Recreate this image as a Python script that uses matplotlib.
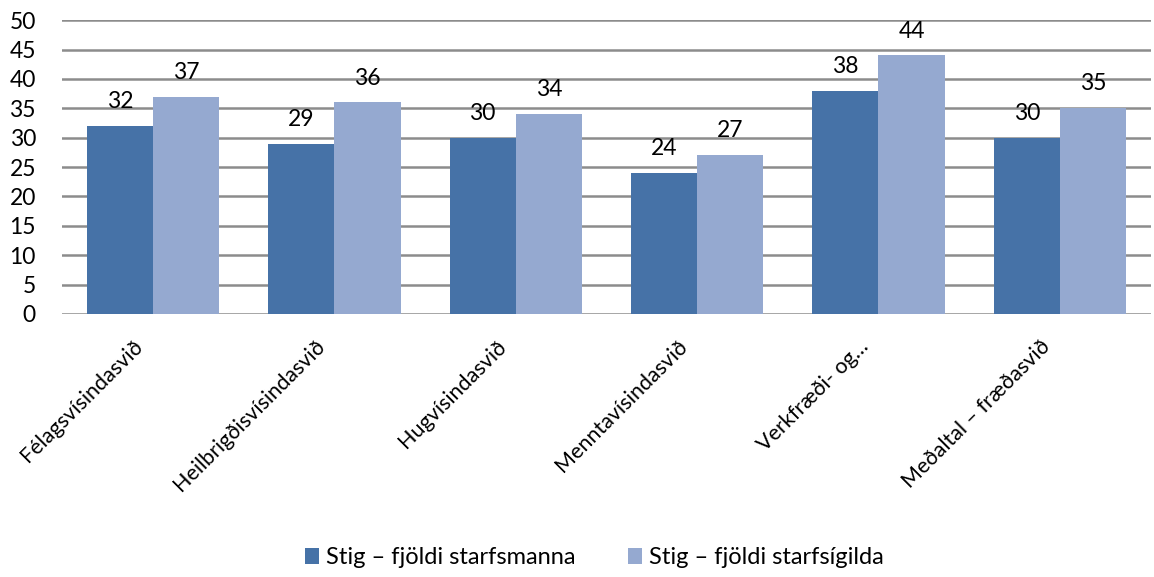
import matplotlib
matplotlib.use("Agg")
import matplotlib.pyplot as plt
from matplotlib.transforms import ScaledTranslation
import numpy as np

categories = ["Félagsvísindasvið", "Heilbrigðisvísindasvið", "Hugvísindasvið",
              "Menntavísindasvið", "Verkfræði- og…", "Meðaltal – fræðasvið"]
series_names = ["Stig – fjöldi starfsmanna", "Stig – fjöldi starfsígilda"]
stig_starfsmenn = [32, 29, 30, 24, 38, 30]
stig_starfsigildi = [37, 36, 34, 27, 44, 35]
y_ticks = [0, 5, 10, 15, 20, 25, 30, 35, 40, 45, 50]

plt.rcParams['font.family'] = ['Lato', 'DejaVu Sans']

fig = plt.figure(figsize=(11.54, 5.77), dpi=100)
ax = fig.add_axes([0.054, 0.456, 0.943, 0.509])

x = np.arange(len(categories))
w = 0.365
c1, c2 = "#4672A7", "#95A9D0"
b1 = ax.bar(x - w/2, stig_starfsmenn, w, color=c1, label=series_names[0], zorder=3)
b2 = ax.bar(x + w/2, stig_starfsigildi, w, color=c2, label=series_names[1], zorder=3)
for bars in (b1, b2):
    ax.bar_label(bars, padding=10, fontsize=16.5, color="black")

ax.set_xlim(-0.5, len(categories) - 0.5)
ax.set_ylim(0, 50)
ax.set_yticks(y_ticks)
ax.set_yticklabels([str(t) for t in y_ticks], fontsize=16.5)
ax.yaxis.grid(True, color="#8C8C8C", linewidth=1.8, zorder=0)
ax.set_axisbelow(True)
for s in ax.spines.values():
    s.set_visible(False)
ax.tick_params(axis='both', length=0)
ax.tick_params(axis='y', pad=19)
ax.set_xticks(x)
ax.set_xticklabels(categories, rotation=45, ha='right', va='top',
                   rotation_mode='anchor', fontsize=15.5)
ax.tick_params(axis='x', pad=16)
offset = ScaledTranslation(-20/100, 0, fig.dpi_scale_trans)
for lbl in ax.get_xticklabels():
    lbl.set_transform(lbl.get_transform() + offset)

fig.legend(handles=[b1, b2], labels=series_names, loc='center',
           bbox_to_anchor=(0.515, 0.033), ncol=2, frameon=False, fontsize=17,
           handlelength=0.6, handleheight=0.7, handletextpad=0.3, columnspacing=2.2)

fig.savefig("out.png", dpi=100)
